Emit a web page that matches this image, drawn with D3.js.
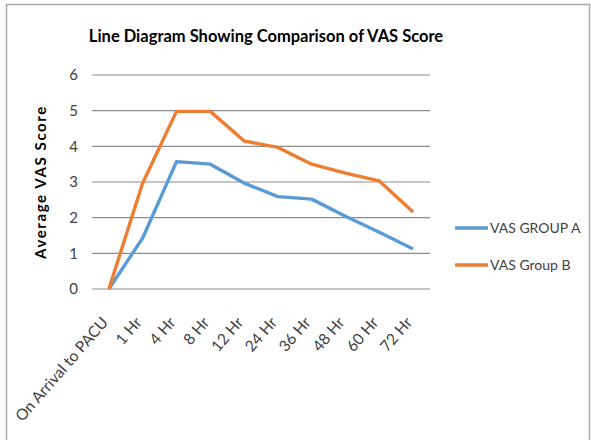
<!DOCTYPE html>
<html>
<head>
<script src="https://d3js.org/d3.v7.min.js"></script>
<style>
  body { margin: 0; background: #fff; }
  text { font-family: Lato, "Open Sans", sans-serif; fill: #404040; }
</style>
</head>
<body>
<div id="chart"></div>
<script>
const categories = ["On Arrival to PACU", "1 Hr", "4 Hr", "8 Hr", "12 Hr", "24 Hr", "36 Hr", "48 Hr", "60 Hr", "72 Hr"];
const groupA = [0, 1.43, 3.57, 3.5, 2.97, 2.59, 2.52, 2.04, 1.59, 1.12];
const groupB = [0, 2.97, 4.98, 4.98, 4.15, 3.97, 3.5, 3.25, 3.03, 2.16];
const seriesNames = ["VAS GROUP A", "VAS Group B"];
const seriesColors = ["#5B9BD5", "#ED7D31"];
const yTicks = [0, 1, 2, 3, 4, 5, 6];

const width = 591, height = 440;
const svg = d3.select("#chart").append("svg")
  .attr("width", width).attr("height", height);

// outer frame
svg.append("rect")
  .attr("x", 6.5).attr("y", 4.5)
  .attr("width", 583).attr("height", 440)
  .attr("fill", "none").attr("stroke", "#a8a8a8").attr("stroke-width", 1.5);

const plot = { left: 92, right: 430, top: 75, bottom: 289 };

const x = d3.scaleBand().domain(categories).range([plot.left, plot.right]);
const y = d3.scaleLinear().domain([0, 6]).range([plot.bottom, plot.top]);

// title
svg.append("text")
  .attr("x", 266).attr("y", 42)
  .attr("text-anchor", "middle")
  .style("font-size", "16.5px").style("font-weight", "bold")
  .style("fill", "#000")
  .text("Line Diagram Showing Comparison of VAS Score");

// gridlines
svg.append("g").selectAll("line").data(yTicks).join("line")
  .attr("x1", plot.left).attr("x2", plot.right)
  .attr("y1", d => y(d)).attr("y2", d => y(d))
  .attr("stroke", "#8c8c8c").attr("stroke-width", 1.2);

// y axis labels
const yAxis = svg.append("g")
  .attr("transform", `translate(${plot.left - 14},0)`)
  .call(d3.axisLeft(y).tickValues(yTicks).tickFormat(d3.format("d")).tickSize(0).tickPadding(0));
yAxis.select(".domain").remove();
yAxis.selectAll("text")
  .style("font-family", "Lato, sans-serif")
  .style("font-size", "15px").style("fill", "#404040");

// y axis title
svg.append("text")
  .attr("transform", `translate(46,182) rotate(-90)`)
  .attr("text-anchor", "middle")
  .style("font-size", "15px").style("font-weight", "bold")
  .style("letter-spacing", "1.6px")
  .style("fill", "#000")
  .text("Average VAS Score");

// x labels
const xAxis = svg.append("g")
  .attr("transform", `translate(0,${plot.bottom})`)
  .call(d3.axisBottom(x).tickSize(0).tickPadding(0));
xAxis.select(".domain").remove();
xAxis.selectAll("text")
  .attr("text-anchor", "end")
  .attr("dy", null).attr("y", 0)
  .attr("transform", "translate(0,34) rotate(-49)")
  .style("font-family", "Lato, sans-serif")
  .style("font-size", "15.5px").style("fill", "#404040");

// lines
const line = d3.line()
  .x((d, i) => x(categories[i]) + x.bandwidth() / 2)
  .y(d => y(d));

[groupA, groupB].forEach((vals, k) => {
  svg.append("path")
    .datum(vals)
    .attr("d", line)
    .attr("fill", "none")
    .attr("stroke", seriesColors[k])
    .attr("stroke-width", 3.4)
    .attr("stroke-linejoin", "round");
});

// legend
const legend = svg.append("g");
seriesNames.forEach((name, k) => {
  const ly = 228 + k * 37;
  legend.append("line")
    .attr("x1", 455).attr("x2", 488)
    .attr("y1", ly).attr("y2", ly)
    .attr("stroke", seriesColors[k]).attr("stroke-width", 3.4);
  legend.append("text")
    .attr("x", 490).attr("y", ly + 5)
    .style("font-size", "14px").style("fill", "#404040")
    .text(name);
});
</script>
</body>
</html>
